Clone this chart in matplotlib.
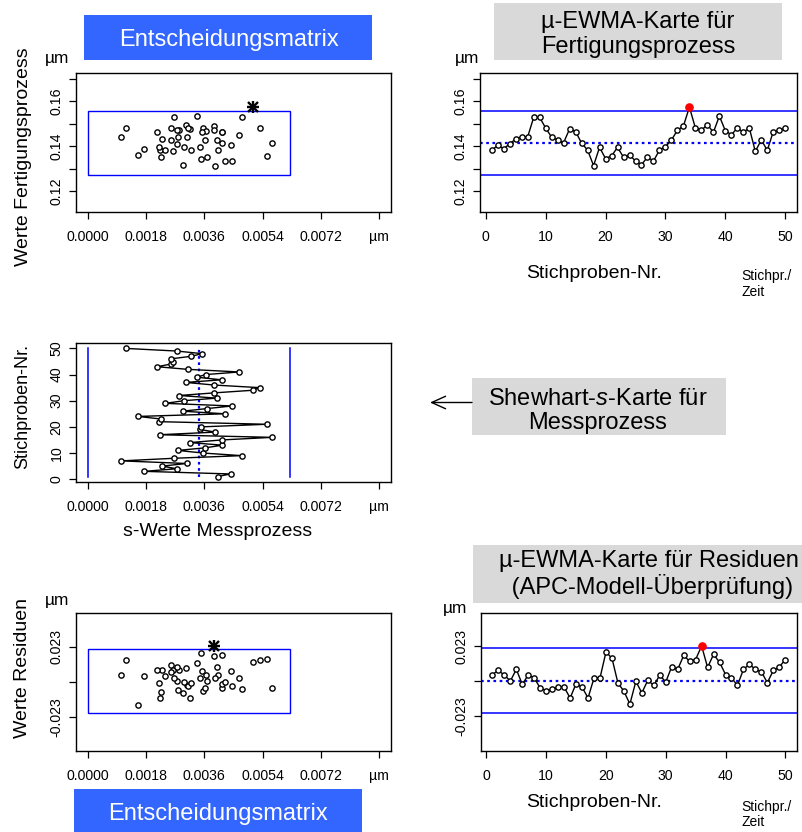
import numpy as np
import matplotlib
matplotlib.use("Agg")
import matplotlib.pyplot as plt
from matplotlib.patches import Rectangle, FancyArrowPatch

plt.rcParams['font.family'] = ['Liberation Sans', 'DejaVu Sans']
plt.rcParams['mathtext.fontset'] = 'custom'
plt.rcParams['mathtext.rm'] = 'Liberation Sans'
plt.rcParams['mathtext.it'] = 'Liberation Sans:italic'

# ---- data -------------------------------------------------------------
samples = np.arange(1, 51)

# standard deviations of the measurement process (s chart)
s_mess = [0.00401, 0.00441, 0.00175, 0.00275, 0.00229, 0.00306, 0.00104, 0.00267,
          0.00475, 0.00356, 0.00278, 0.00363, 0.00416, 0.00316, 0.00413, 0.00569,
          0.00222, 0.00394, 0.00347, 0.00350, 0.00553, 0.00219, 0.00227, 0.00155,
          0.00424, 0.00293, 0.00368, 0.00446, 0.00240, 0.00296, 0.00398, 0.00282,
          0.00390, 0.00509, 0.00531, 0.00390, 0.00303, 0.00413, 0.00337, 0.00364,
          0.00468, 0.00309, 0.00214, 0.00256, 0.00263, 0.00256, 0.00320, 0.00353,
          0.00275, 0.00118]
s_center, s_ucl, s_lcl = 0.00344, 0.00623, 0.0

# EWMA of the manufacturing process
ewma_fert = [0.1381, 0.1403, 0.1388, 0.1410, 0.1431, 0.1441, 0.1441, 0.1527,
             0.1527, 0.1480, 0.1439, 0.1427, 0.1415, 0.1476, 0.1464, 0.1413,
             0.1382, 0.1313, 0.1394, 0.1344, 0.1356, 0.1394, 0.1350, 0.1361,
             0.1333, 0.1317, 0.1351, 0.1333, 0.1382, 0.1397, 0.1427, 0.1470,
             0.1489, 0.1573, 0.1480, 0.1470, 0.1495, 0.1461, 0.1533, 0.1468,
             0.1450, 0.1480, 0.1461, 0.1480, 0.1376, 0.1427, 0.1381, 0.1464,
             0.1470, 0.1480]
fert_center, fert_ucl, fert_lcl = 0.1414, 0.1556, 0.1272
fert_alarm = 34

# EWMA of the APC model residuals
ewma_res = [0.00447, 0.00715, 0.00402, 0.00022, 0.00782, -0.00201, 0.00424, 0.00223,
            -0.00447, -0.00603, -0.00536, -0.00380, -0.00380, -0.01094, -0.00156, -0.00380,
            -0.01094, 0.00223, 0.00223, 0.01920, 0.01518, -0.00112, -0.00648, -0.01496,
            0.00000, -0.00759, 0.00067, -0.00268, 0.00402, -0.00045, 0.00960, 0.00782,
            0.01697, 0.01317, 0.01429, 0.02322, 0.00916, 0.01764, 0.01250, 0.00447,
            0.00223, -0.00268, 0.00782, 0.01117, 0.00782, 0.00625, -0.00089, 0.00715,
            0.00938, 0.01429]
res_center, res_ucl, res_lcl = 0.0, 0.0216, -0.0208
res_alarm = 36

s_ticks = [0.0, 0.0018, 0.0036, 0.0054, 0.0072, 0.009]
s_ticklabels = ["0.0000", "0.0018", "0.0036", "0.0054", "0.0072", "µm"]
fert_ticks = [0.12, 0.14, 0.16]
fert_minor = [0.13, 0.15, 0.17]
res_ticks = [-0.023, 0.023]
res_ticklabels = ["-0.023", "0.023"]
sample_ticks = [0, 10, 20, 30, 40, 50]

# ---- figure -----------------------------------------------------------
W, H = 802, 832
fig = plt.figure(figsize=(W / 100, H / 100), dpi=100)


def axes_px(l, t, r, b):
    return fig.add_axes([l / W, 1 - b / H, (r - l) / W, (b - t) / H])


def text_px(x, y, s, **kw):
    kw.setdefault('ha', 'center')
    kw.setdefault('va', 'center')
    return fig.text(x / W, 1 - y / H, s, **kw)


def box_px(l, t, r, b, color):
    fig.add_artist(Rectangle((l / W, 1 - b / H), (r - l) / W, (b - t) / H,
                             transform=fig.transFigure, fc=color, ec='none'))


def style(ax):
    for sp in ax.spines.values():
        sp.set_linewidth(1.0)
        sp.set_color('black')
    ax.tick_params(which='both', direction='out', length=5, width=0.9,
                   labelsize=10.2, colors='black')
    ax.tick_params(axis='x', pad=8)
    ax.tick_params(axis='y', pad=4)
    for lab in ax.get_yticklabels():
        lab.set_rotation(90)
        lab.set_va('center')


S_XLIM = (-0.00036, 0.00936)
N_XLIM = (1 - 1.96, 50 + 1.96)
FERT_YLIM = (0.1108, 0.1726)
RES_YLIM = (-0.0455, 0.045)

s_arr = np.array(s_mess)
fert_arr = np.array(ewma_fert)
res_arr = np.array(ewma_res)

marker_kw = dict(marker='o', ms=3.8, mfc='white', mec='black', mew=1.0)


def decision_matrix(ax, yvals, lcl, ucl, alarm, ylim):
    ax.add_patch(Rectangle((s_lcl, lcl), s_ucl - s_lcl, ucl - lcl,
                           fill=False, ec='blue', lw=1.0))
    mask = samples != alarm
    ax.plot(s_arr[mask], yvals[mask], ls='none', **marker_kw)
    i = alarm - 1
    ax.plot(s_arr[i], yvals[i], marker='+', ms=8.5, mew=1.7, color='black')
    ax.plot(s_arr[i], yvals[i], marker='x', ms=6.5, mew=1.7, color='black')
    ax.set_xlim(*S_XLIM)
    ax.set_ylim(*ylim)
    ax.set_xticks(s_ticks)
    ax.set_xticklabels(s_ticklabels)


def ewma_chart(ax, yvals, center, lcl, ucl, alarm, ylim):
    ax.axhline(ucl, color='blue', lw=1.1)
    ax.axhline(lcl, color='blue', lw=1.1)
    ax.axhline(center, color='blue', lw=1.6, ls=(0, (1.2, 1.6)))
    ax.plot(samples, yvals, color='black', lw=1.0, **marker_kw)
    i = alarm - 1
    ax.plot(samples[i], yvals[i], marker='o', ms=5.2, color='red', mec='red')
    ax.set_xlim(*N_XLIM)
    ax.set_ylim(*ylim)
    ax.set_xticks(sample_ticks)


# top row: manufacturing process
ax1 = axes_px(76, 72.7, 391, 211.7)
decision_matrix(ax1, fert_arr, fert_lcl, fert_ucl, fert_alarm, FERT_YLIM)
ax1.set_yticks(fert_ticks)
ax1.set_yticks(fert_minor, minor=True)
style(ax1)

ax2 = axes_px(480, 72.7, 797, 211.7)
ewma_chart(ax2, fert_arr, fert_center, fert_lcl, fert_ucl, fert_alarm, FERT_YLIM)
ax2.set_yticks(fert_ticks)
ax2.set_yticks(fert_minor, minor=True)
style(ax2)

# middle: Shewhart s chart of the measurement process
ax3 = axes_px(76, 343.3, 391, 481.7)
for xv in (s_lcl, s_ucl):
    ax3.plot([xv, xv], [samples[0], samples[-1]], color='blue', lw=1.1)
ax3.plot([s_center, s_center], [samples[0], samples[-1]], color='blue',
         lw=1.6, ls=(0, (1.2, 1.6)))
ax3.plot(s_arr, samples, color='black', lw=1.0, **marker_kw)
ax3.set_xlim(*S_XLIM)
ax3.set_ylim(*N_XLIM)
ax3.set_xticks(s_ticks)
ax3.set_xticklabels(s_ticklabels)
ax3.set_yticks(sample_ticks)
style(ax3)

# bottom row: APC model residuals
ax4 = axes_px(76, 613.3, 391, 751)
decision_matrix(ax4, res_arr, res_lcl, res_ucl, res_alarm, RES_YLIM)
ax4.set_yticks(res_ticks)
ax4.set_yticklabels(res_ticklabels)
ax4.set_yticks([0.0], minor=True)
style(ax4)

ax5 = axes_px(480.7, 612.7, 797, 750.7)
ewma_chart(ax5, res_arr, res_center, res_lcl, res_ucl, res_alarm, RES_YLIM)
ax5.set_yticks(res_ticks)
ax5.set_yticklabels(res_ticklabels)
ax5.set_yticks([0.0], minor=True)
style(ax5)

# ---- headings and labels ----------------------------------------------
blue = '#3366FF'
grey = '#D9D9D9'
box_px(84, 15, 372, 60, blue)
text_px(229, 40, "Entscheidungsmatrix", color='white', fontsize=17)
box_px(74, 789.3, 362, 832, blue)
text_px(218, 814, "Entscheidungsmatrix", color='white', fontsize=17)

box_px(494, 3.3, 782, 60, grey)
text_px(638, 21.7, "µ-EWMA-Karte für", fontsize=17)
text_px(638, 46.7, "Fertigungsprozess", fontsize=17)

box_px(472.3, 378.3, 726, 435, grey)
text_px(597.5, 399.3, "Shewhart-$\\mathit{s}$-Karte für", fontsize=17)
text_px(598, 423.3, "Messprozess", fontsize=17)
fig.add_artist(FancyArrowPatch((472 / W, 1 - 402.5 / H), (430 / W, 1 - 402.5 / H),
                               transform=fig.transFigure,
                               arrowstyle='->,head_length=10,head_width=4.5',
                               mutation_scale=1, lw=1.0, color='black',
                               shrinkA=0, shrinkB=0))

box_px(472.7, 545, 802, 602.7, grey)
text_px(649, 561.5, "µ-EWMA-Karte für Residuen", fontsize=17)
text_px(649, 586.7, " (APC-Modell-Überprüfung)", fontsize=17)

for x, y in [(57, 58.3), (467, 58.3), (57, 600), (455, 608.3)]:
    text_px(x, y, "µm", fontsize=12.5)

text_px(24, 156.7, "Werte Fertigungsprozess", fontsize=14, rotation=90)
text_px(23, 406.7, "Stichproben-Nr.", fontsize=13, rotation=90)
text_px(23, 668, "Werte Residuen", fontsize=14, rotation=90)
text_px(218, 531, "s-Werte Messprozess", fontsize=14)

for y in (273, 802.7):
    text_px(594, y, "Stichproben-Nr.", fontsize=14)
for y in (276, 806.7):
    text_px(741.7, y, "Stichpr./", fontsize=10, ha='left')
    text_px(741.7, y + 15.7, "Zeit", fontsize=10, ha='left')

fig.savefig("out.png", dpi=100)
